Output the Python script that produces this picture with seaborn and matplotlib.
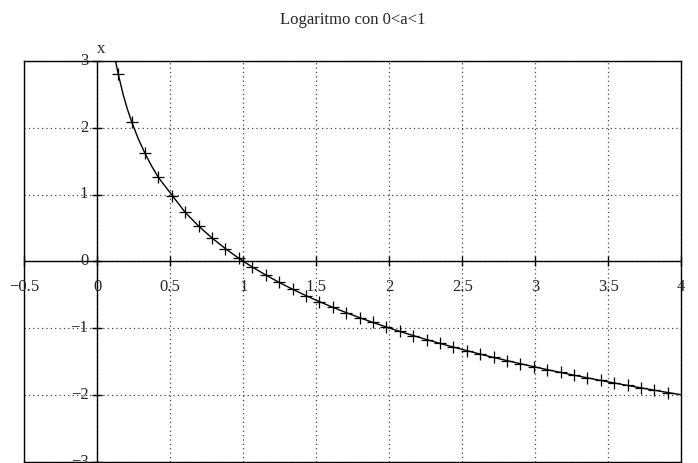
import matplotlib
matplotlib.use("Agg")
import matplotlib.pyplot as plt
import seaborn as sns

# ---- data (log base 1/2) ----
marker_x = [0.143, 0.235, 0.327, 0.418, 0.510, 0.602, 0.694, 0.786, 0.878, 0.969,
            1.061, 1.153, 1.245, 1.337, 1.429, 1.520, 1.612, 1.704, 1.796, 1.888,
            1.980, 2.071, 2.163, 2.255, 2.347, 2.439, 2.531, 2.622, 2.714, 2.806,
            2.898, 2.990, 3.082, 3.173, 3.265, 3.357, 3.449, 3.541, 3.633, 3.724,
            3.816, 3.908]
marker_y = [2.807, 2.091, 1.615, 1.257, 0.971, 0.732, 0.527, 0.348, 0.188, 0.045,
            -0.086, -0.205, -0.316, -0.419, -0.515, -0.604, -0.689, -0.769, -0.845, -0.917,
            -0.985, -1.051, -1.113, -1.173, -1.231, -1.286, -1.339, -1.391, -1.441, -1.489,
            -1.535, -1.580, -1.624, -1.666, -1.707, -1.747, -1.786, -1.824, -1.861, -1.897,
            -1.932, -1.967]
curve_x = [0.125, 0.143, 0.177, 0.205, 0.235, 0.28, 0.327, 0.37, 0.418] + marker_x[5:] + [4.0]
curve_y = [3.0, 2.807, 2.498, 2.286, 2.091, 1.837, 1.615, 1.434, 1.257] + marker_y[5:] + [-2.0]

x_ticks = [-0.5, 0, 0.5, 1, 1.5, 2, 2.5, 3, 3.5, 4]
x_tick_labels = ["\u22120.5", "0", "0.5", "1", "1.5", "2", "2.5", "3", "3.5", "4"]
y_ticks = [-3, -2, -1, 0, 1, 2, 3]
y_tick_labels = ["\u22123", "\u22122", "\u22121", "0", "1", "2", "3"]
title = "Logaritmo con 0<a<1"
y_name = "x"

sns.set_style("white")
plt.rcParams["font.family"] = ["Liberation Serif", "DejaVu Serif"]
plt.rcParams["axes.unicode_minus"] = True

fig = plt.figure(figsize=(6.98, 4.63), dpi=100)
ax = fig.add_axes([24.3 / 698, 1.5 / 463, (681.3 - 24.3) / 698, (461.5 - 61) / 463])
ax.set_xlim(-0.5, 4)
ax.set_ylim(-3, 3)

# grid
ax.set_xticks(x_ticks)
ax.set_yticks(y_ticks)
ax.tick_params(length=0, labelbottom=False, labelleft=False)
ax.grid(True, color="#444444", linestyle=(0, (1, 2.5)), linewidth=0.9)
ax.set_axisbelow(True)
for s in ax.spines.values():
    s.set_visible(True)
    s.set_color("black")
    s.set_linewidth(1.0)

# zero axes
ax.axhline(0, color="black", lw=1.0, zorder=2)
ax.axvline(0, color="black", lw=1.0, zorder=2)

# tick marks on the zero axes
ax.plot(x_ticks, [0] * len(x_ticks), linestyle="none", marker="|", markersize=7,
        markeredgewidth=1.0, color="black", zorder=3, clip_on=False)
ax.plot([0] * len(y_ticks), y_ticks, linestyle="none", marker="_", markersize=7,
        markeredgewidth=1.0, color="black", zorder=3, clip_on=False)

# curve and markers
sns.lineplot(x=curve_x, y=curve_y, ax=ax, color="black", linewidth=1.0, sort=False,
             estimator=None, zorder=4)
sns.scatterplot(x=marker_x, y=marker_y, ax=ax, marker="+", s=75, color="black",
                linewidth=0.9, zorder=5)

# tick labels
fs = 12
for xv, lab in zip(x_ticks, x_tick_labels):
    ax.annotate(lab, xy=(xv, 0), xytext=(0, -18.5), textcoords="offset points",
                ha="center", va="center", fontsize=fs, annotation_clip=False)
for yv, lab in zip(y_ticks, y_tick_labels):
    ax.annotate(lab, xy=(0, yv), xytext=(-6.5, 0), textcoords="offset points",
                ha="right", va="center", fontsize=fs, annotation_clip=False)

ax.annotate(y_name, xy=(0, 3), xytext=(0, 8.5), textcoords="offset points",
            ha="left", va="center", fontsize=fs, annotation_clip=False)

fig.text((24.3 + 681.3) / 2 / 698, 1 - 20 / 463, title, ha="center", va="center", fontsize=fs)

ax.set_xlabel("")
ax.set_ylabel("")
fig.savefig("out.png", dpi=100)
